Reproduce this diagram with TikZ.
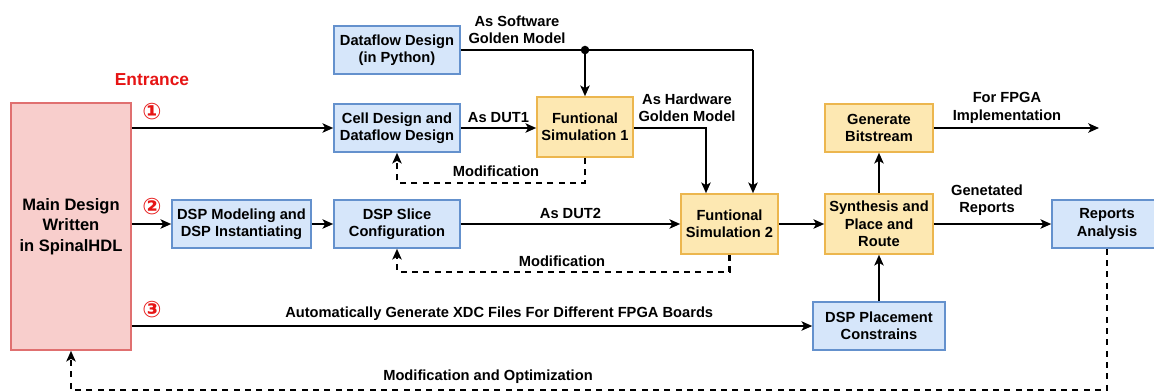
\documentclass[tikz,border=0pt]{standalone}
\usepackage{fontspec}
\setmainfont{Liberation Sans}
\newfontfamily\circfont{DejaVu Sans}
\usetikzlibrary{arrows.meta,positioning}
\definecolor{fillblue}{RGB}{214,230,250}
\definecolor{lineblue}{RGB}{100,145,205}
\definecolor{fillgold}{RGB}{253,232,178}
\definecolor{linegold}{RGB}{236,182,78}
\definecolor{fillpink}{RGB}{248,206,204}
\definecolor{linepink}{RGB}{224,112,112}
\definecolor{entred}{RGB}{230,20,20}

\begin{document}
\begin{tikzpicture}[x=0.75pt, y=-0.75pt, font=\bfseries\fontsize{11}{13}\selectfont,
  box/.style={draw, line width=1.2pt, align=center, inner sep=0pt, minimum height=36pt},
  bluebox/.style={box, fill=fillblue, draw=lineblue},
  goldbox/.style={box, fill=fillgold, draw=linegold},
  arr/.style={line width=1.7pt, -{Stealth[length=8pt,width=7pt,inset=2pt]}},
  back/.style={arr, dash pattern=on 4.5pt off 4pt},
  circnum/.style={text=entred, font=\circfont\bfseries\fontsize{17}{17}\selectfont}]
\useasboundingbox (0,0) rectangle (1154,390);
% boxes
\node[box, fill=fillpink, draw=linepink, minimum width=90pt, minimum height=185.25pt,
  font=\bfseries\fontsize{12.4}{15.5}\selectfont] (main) at (71,226.5) {Main Design\\Written\\in SpinalHDL};
\node[bluebox, minimum width=94.5pt] (dataflow) at (397,50) {Dataflow Design\\(in Python)};
\node[bluebox, minimum width=94.5pt] (cell) at (397,128) {Cell Design and\\Dataflow Design};
\node[goldbox, minimum width=72pt, minimum height=45pt] (fsa) at (585,127) {Funtional\\Simulation 1};
\node[bluebox, minimum width=104.25pt] (dspmod) at (241.5,224) {DSP Modeling and\\DSP Instantiating};
\node[bluebox, minimum width=94.5pt] (slice) at (397,224) {DSP Slice\\Configuration};
\node[goldbox, minimum width=72.75pt, minimum height=45pt] (fsb) at (729.5,224) {Funtional\\Simulation 2};
\node[goldbox, minimum width=81pt, minimum height=45pt] (synth) at (879,224) {Synthesis and\\Place and\\Route};
\node[goldbox, minimum width=81pt] (bitstream) at (879,128) {Generate\\Bitstream};
\node[bluebox, minimum width=82.5pt] (reports) at (1107,224) {Reports\\Analysis};
\node[bluebox, minimum width=99pt] (placement) at (879,326) {DSP Placement\\Constrains};
% entrance marks
\node[text=entred, font=\bfseries\fontsize{13}{13}\selectfont] (entrance) at (152,80) {Entrance};
\node[circnum] (numa) at (152,112) {①};
\node[circnum] (numb) at (152,207) {②};
\node[circnum] (numc) at (152,310) {③};
% forward flow
\draw[arr] (main.east |- cell.west) -- (cell.west);
\draw[arr] (main.east |- dspmod.west) -- (dspmod.west);
\draw[arr] (main.east |- placement.west) -- node[above, pos=0.54] {Automatically Generate XDC Files For Different FPGA Boards} (placement.west);
\draw[arr] (dspmod) -- (slice);
\draw[arr] (slice) -- node[above] {As DUT2} (fsb);
\draw[arr] (cell.east) -- node[above] {As DUT1} (cell.east -| fsa.west);
\coordinate (tap) at (dataflow.east -| fsa.north);
\coordinate (gold) at (753,50);
\draw[line width=1.7pt] (dataflow.east) -- (gold);
\draw[arr] (gold) -- (gold |- fsb.north);
\draw[arr] (tap) -- (fsa.north);
\fill (tap) circle (3.2pt);
\node[align=center] (swlabel) at (517,30) {As Software\\Golden Model};
\coordinate (hw) at (706,128);
\draw[arr] (fsa.east |- hw) -- (hw) -- (hw |- fsb.north);
\node[align=center] (hwlabel) at (687,108) {As Hardware\\Golden Model};
\draw[arr] (fsb) -- (synth);
\draw[arr] (placement) -- (synth);
\draw[arr] (synth) -- (bitstream);
\coordinate (fpga) at (1099,128);
\draw[arr] (bitstream.east |- fpga) -- (fpga);
\node[align=center] (fpgalabel) at (1007,108) {For FPGA\\Implementation};
\draw[arr] (synth) -- (synth -| reports.west);
\node[align=center] (replabel) at (987,200) {Genetated\\Reports};
% feedback loops
\draw[back] (fsa.south) -- ++(0,25) -| (cell.south);
\node (moda) at (496,171) {Modification};
\draw[back] (fsb.south) -- ++(0,17) -| (slice.south);
\node (modb) at (562,261) {Modification};
\coordinate (low) at (1107,390);
\draw[back] (reports.south) -- (low) -| (main.south);
\node (modc) at (488,377) {Modification and Optimization};
\end{tikzpicture}
\end{document}
